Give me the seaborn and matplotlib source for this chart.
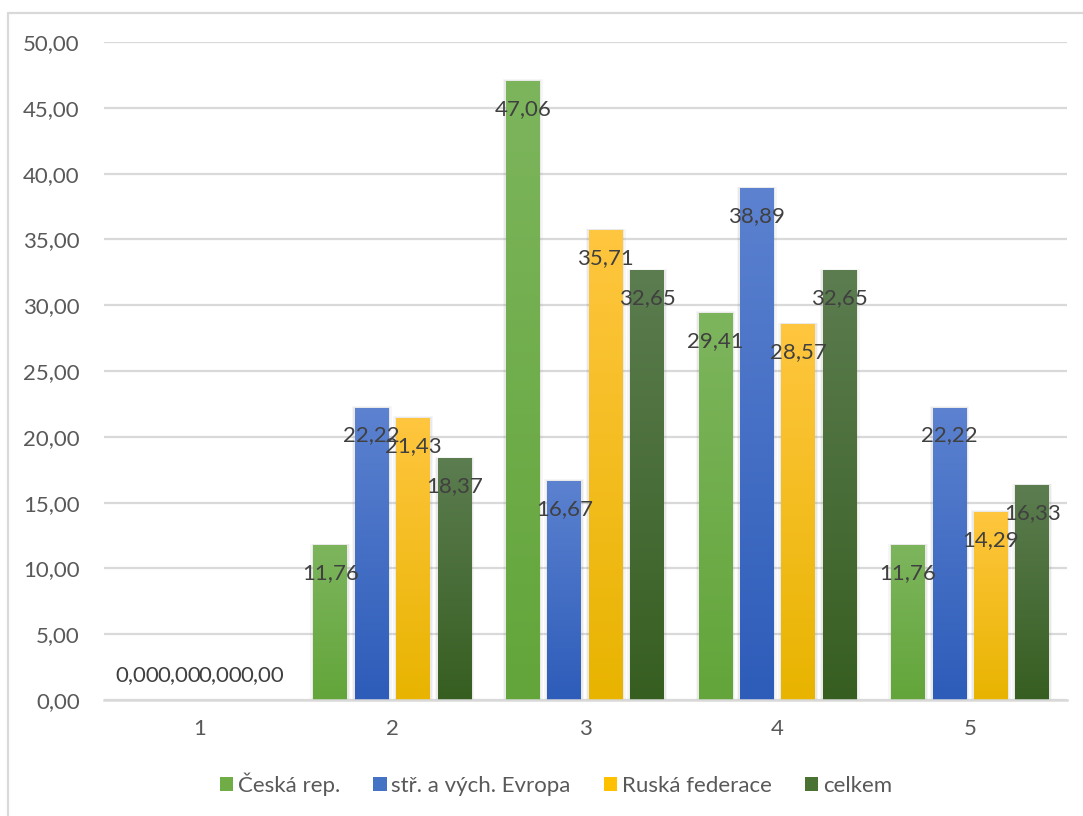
import numpy as np
import pandas as pd
import matplotlib
matplotlib.use("Agg")
import matplotlib.pyplot as plt
import matplotlib.colors as mcolors
from matplotlib.patches import Patch, Rectangle
from matplotlib.lines import Line2D
import seaborn as sns

# Data
categories = ["1", "2", "3", "4", "5"]
series_names = ["Česká rep.", "stř. a vých. Evropa", "Ruská federace", "celkem"]
ceska_rep = [0.00, 11.76, 47.06, 29.41, 11.76]
str_vych_evropa = [0.00, 22.22, 16.67, 38.89, 22.22]
ruska_federace = [0.00, 21.43, 35.71, 28.57, 14.29]
celkem = [0.00, 18.37, 32.65, 32.65, 16.33]
y_ticks = [0, 5, 10, 15, 20, 25, 30, 35, 40, 45, 50]

# Gradient colours (top, bottom) per series
grad_top = ["#7DB55D", "#5C82D0", "#FFC63F", "#5C7D50"]
grad_bottom = ["#63A53A", "#2D5CB9", "#E8B400", "#375E21"]
legend_colors = ["#70AD47", "#4472C4", "#FFC000", "#4A7233"]

values = [ceska_rep, str_vych_evropa, ruska_federace, celkem]
df = pd.DataFrame({
    "kategorie": np.repeat([categories], len(series_names), axis=0).ravel(),
    "skupina": np.repeat(series_names, len(categories)),
    "hodnota": np.concatenate(values),
})

sns.set_style("white")
plt.rcParams["font.family"] = ["Lato", "DejaVu Sans"]

W, H = 1083, 816
FS = 16
fig = plt.figure(figsize=(W / 100, H / 100), dpi=100)
ax = fig.add_axes([103.5 / W, 1 - 700 / H, (1066.5 - 103.5) / W, (700 - 42) / H])

sns.barplot(data=df, x="kategorie", y="hodnota", hue="skupina",
            order=categories, hue_order=series_names,
            palette=legend_colors, width=0.86, gap=0.18,
            errorbar=None, legend=False, ax=ax, zorder=3)

ax.set_xlim(-0.5, len(categories) - 0.5)
ax.set_ylim(0, 50)
ax.set_yticks(y_ticks)
ax.set_yticklabels([f"{t:.2f}".replace(".", ",") for t in y_ticks])
ax.set_xlabel("")
ax.set_ylabel("")

# pixel sizes in data units
px_x = 1.0 / 193.0
px_y = 50.0 / 658.0

# Gradient fills clipped to each bar, with a soft shadow behind
n_cat = len(categories)
patches = list(ax.patches)
for i, p in enumerate(patches):
    s = i // n_cat
    x0, y0 = p.get_x(), p.get_y()
    w, h = p.get_width(), p.get_height()
    if h <= 0:
        p.set_visible(False)
        continue
    for grow, a in ((3.0, 0.07), (1.5, 0.10)):
        sh = Rectangle((x0 - grow * px_x, y0), w + 2 * grow * px_x, h + grow * 0.5 * px_y,
                       facecolor="#808080", edgecolor="none", alpha=a, zorder=2)
        ax.add_patch(sh)
    cmap = mcolors.LinearSegmentedColormap.from_list(
        f"g{s}", [grad_bottom[s], grad_top[s]])
    grad = np.linspace(0, 1, 256).reshape(-1, 1)
    im = ax.imshow(grad, cmap=cmap, origin="lower", aspect="auto",
                   extent=(x0, x0 + w, y0, y0 + h), zorder=3,
                   interpolation="bilinear")
    im.set_clip_path(p)
    p.set_facecolor("none")
    p.set_edgecolor("none")

ax.set_xlim(-0.5, len(categories) - 0.5)
ax.set_ylim(0, 50)

# Value labels
label_color = "#404040"
for i, p in enumerate(patches):
    s = i // n_cat
    c = i % n_cat
    v = values[s][c]
    xc = p.get_x() + p.get_width() / 2
    txt = f"{v:.2f}".replace(".", ",")
    if v == 0:
        ax.annotate(txt, (xc, 0), xytext=(0, 25), textcoords="offset pixels",
                    ha="center", va="center", fontsize=FS, color=label_color, zorder=5)
    else:
        ax.annotate(txt, (xc, v), xytext=(0, -28), textcoords="offset pixels",
                    ha="center", va="center", fontsize=FS, color=label_color, zorder=5)

# Grid and spines
ax.grid(axis="y", color="#D9D9D9", linewidth=1.6, zorder=0)
ax.grid(axis="x", visible=False)
for side in ["top", "right", "left"]:
    ax.spines[side].set_visible(False)
ax.spines["bottom"].set_color("#D9D9D9")
ax.spines["bottom"].set_linewidth(1.8)
ax.spines["bottom"].set_zorder(4)
ax.tick_params(axis="both", length=0, labelsize=FS, labelcolor="#595959")
ax.tick_params(axis="y", pad=17)
ax.tick_params(axis="x", pad=14)

# Legend
handles = [Patch(facecolor=c, edgecolor="none") for c in legend_colors]
fig.legend(handles, series_names, loc="center",
           bbox_to_anchor=(556 / W, 1 - 784 / H),
           ncol=4, frameon=False, fontsize=FS, labelcolor="#595959",
           handlelength=0.6, handleheight=0.6, handletextpad=0.2,
           columnspacing=1.5)

# Chart area border
fig.add_artist(Line2D([8 / W, 8 / W], [0, 1 - 13 / H], transform=fig.transFigure,
                      color="#D9D9D9", linewidth=1.6))
fig.add_artist(Line2D([8 / W, 1], [1 - 13 / H, 1 - 13 / H], transform=fig.transFigure,
                      color="#D9D9D9", linewidth=1.6))

fig.savefig("out.png", dpi=100, facecolor="white")
